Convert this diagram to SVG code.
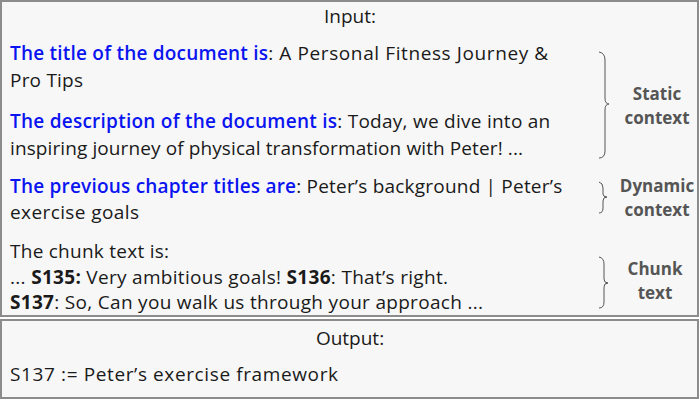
<svg xmlns="http://www.w3.org/2000/svg" width="700" height="400" viewBox="0 0 700 400">
<style>
.box{fill:#f7f7f7;stroke:#8c8c8c;stroke-width:2}
.t{font-family:"Open Sans","Liberation Sans",sans-serif;font-size:19px;fill:#1a1a1a}
.b{font-weight:bold}
.blue{fill:#0a14f0;font-weight:600}
.lab{font-family:"Open Sans","Liberation Sans",sans-serif;font-size:17px;font-weight:bold;fill:#555;text-anchor:middle}
.brace{fill:none;stroke:#555;stroke-width:1}
</style>
<g id="input">
<rect class="box" x="1" y="1" width="697" height="315"/>
<text class="t" x="350" y="23" text-anchor="middle">Input:</text>
<text class="t" x="10" y="60"><tspan class="blue" textLength="258">The title of the document is</tspan><tspan textLength="280">: A Personal Fitness Journey &amp;</tspan></text>
<text class="t" x="10" y="87" textLength="73">Pro Tips</text>
<text class="t" x="10" y="128"><tspan class="blue" textLength="327">The description of the document is</tspan><tspan textLength="213">: Today, we dive into an</tspan></text>
<text class="t" x="10" y="155" textLength="513">inspiring journey of physical transformation with Peter! ...</text>
<text class="t" x="10" y="193"><tspan class="blue" textLength="286">The previous chapter titles are</tspan><tspan textLength="266">: Peter’s background | Peter’s</tspan></text>
<text class="t" x="10" y="219" textLength="129">exercise goals</text>
<text class="t" x="10" y="258" textLength="159">The chunk text is:</text>
<text class="t" x="10" y="284" textLength="438">... <tspan class="b">S135:</tspan> Very ambitious goals! <tspan class="b">S136</tspan>: That’s right.</text>
<text class="t" x="10" y="309" textLength="473"><tspan class="b">S137</tspan>: So, Can you walk us through your approach ...</text>
</g>
<g id="braces">
<path class="brace" d="M599,52 Q605,53 605,60 L605,98 Q605,104 609,104 Q605,104 605,110 L605,151 Q605,158 599,158"/>
<path class="brace" d="M599,182 Q603,183 603,188 L603,194 Q603,197 607,197 Q603,197 603,201 L603,208 Q603,213 599,213"/>
<path class="brace" d="M599,257 Q604,258 604,264 L604,279 Q604,283 608,283 Q604,283 604,287 L604,302 Q604,308 599,308"/>
</g>
<g id="labels">
<text class="lab" x="657" y="100">Static</text>
<text class="lab" x="657" y="124">context</text>
<text class="lab" x="657" y="192">Dynamic</text>
<text class="lab" x="657" y="216">context</text>
<text class="lab" x="655" y="275">Chunk</text>
<text class="lab" x="655" y="299">text</text>
</g>
<g id="output">
<rect class="box" x="1" y="320" width="697" height="78"/>
<text class="t" x="350" y="345" text-anchor="middle">Output:</text>
<text class="t" x="10" y="381" textLength="328">S137 := Peter’s exercise framework</text>
</g>
</svg>
